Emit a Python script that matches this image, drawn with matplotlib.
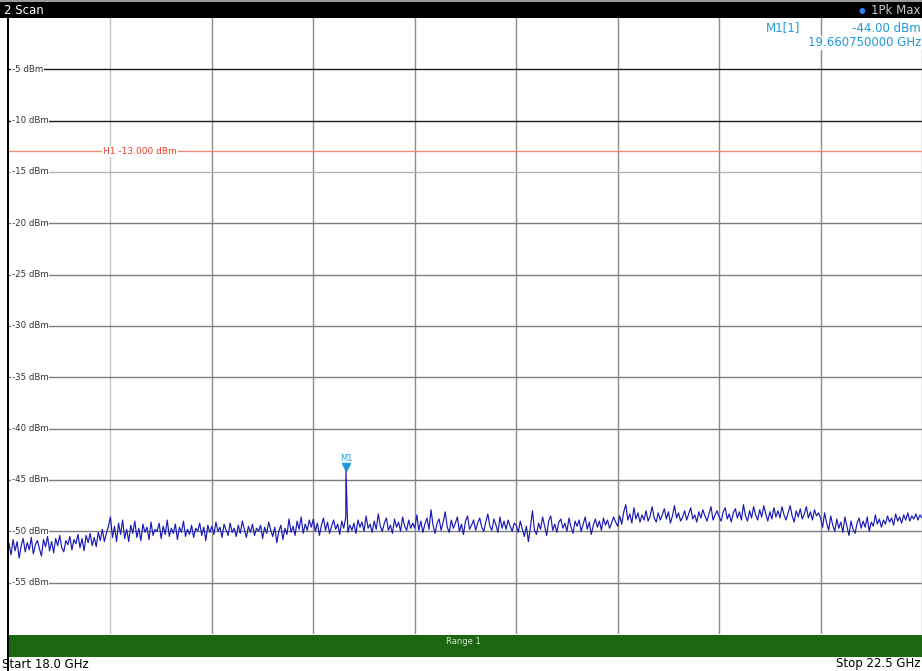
import matplotlib
matplotlib.use('Agg')
import matplotlib.pyplot as plt
import numpy as np
from matplotlib.patches import Rectangle

plt.rcParams['font.family'] = 'DejaVu Sans'

# sweep settings
start_ghz = 18.0
stop_ghz = 22.5
ref_levels = [-5, -10, -15, -20, -25, -30, -35, -40, -45, -50, -55]
level_labels = ['-5 dBm', '-10 dBm', '-15 dBm', '-20 dBm', '-25 dBm', '-30 dBm',
                '-35 dBm', '-40 dBm', '-45 dBm', '-50 dBm', '-55 dBm']
freq_grid = [18.5, 19.0, 19.5, 20.0, 20.5, 21.0, 21.5, 22.0]
h1_level = -13.0
marker_freq = 19.66075
marker_level = -44.00

# 1Pk Max trace (dBm), evenly spaced over the span
trace = [
    -51.2, -52.3, -50.8, -51.9, -51.0, -52.6, -51.4, -50.7, -52.0, -51.1,
    -51.8, -50.6, -52.2, -51.3, -50.9, -51.7, -52.4, -50.8, -51.5, -50.5,
    -51.9, -51.0, -52.1, -50.7, -51.4, -50.4, -51.6, -52.0, -50.9, -51.3,
    -50.5, -51.8, -50.8, -51.2, -50.3, -51.6, -50.7, -51.9, -50.4, -51.1,
    -50.2, -51.4, -50.6, -51.5, -50.1, -50.9, -49.8, -51.0, -50.2, -49.5,
    # 18.5 GHz
    -48.6, -50.6, -49.5, -51.0, -49.2, -50.3, -48.9, -50.7, -49.8, -51.0,
    -49.4, -50.2, -49.0, -50.6, -49.7, -50.9, -49.3, -50.1, -49.6, -50.8,
    -49.1, -50.4, -49.8, -50.0, -49.2, -50.7, -49.5, -50.3, -48.9, -50.5,
    -49.7, -50.2, -49.3, -50.8, -49.6, -50.1, -49.0, -50.5, -49.8, -50.3,
    -49.4, -50.6, -49.7, -50.0, -49.2, -50.4, -49.6, -50.9, -49.4, -50.1,
    # 19.0 GHz
    -49.5, -50.3, -49.1, -50.0, -49.6, -50.6, -49.3, -49.9, -50.4, -49.2,
    -50.1, -49.7, -50.5, -49.4, -50.2, -49.0, -49.8, -50.6, -49.5, -50.1,
    -49.3, -50.4, -49.7, -50.0, -49.4, -50.7, -49.6, -50.2, -49.1, -49.9,
    -50.5, -49.6, -51.1, -50.0, -49.4, -50.8, -49.7, -50.3, -48.8, -50.1,
    -49.5, -50.4, -49.0, -49.8, -48.6, -50.2, -49.3, -49.9, -48.9, -49.6,
    # 19.5 GHz
    -48.8, -50.0, -49.2, -50.4, -49.4, -48.7, -49.9, -49.1, -50.2, -49.5,
    -48.9, -49.8, -49.3, -50.3, -49.0, -49.7, -48.6, -50.1, -49.4, -49.9,
    -49.2, -50.2, -48.9, -49.6, -49.1, -50.0, -48.5, -49.7, -49.3, -50.1,
    -49.0, -49.8, -48.3, -49.5, -50.0, -49.2, -48.7, -49.9, -49.4, -50.2,
    -48.8, -49.6, -49.1, -50.0, -48.6, -49.5, -49.9, -48.9, -49.7, -49.2,
    # 20.0 GHz
    -49.7, -48.4, -49.9, -49.0, -50.1, -49.3, -48.7, -49.8, -47.9, -49.4,
    -50.2, -49.2, -48.8, -49.9, -49.1, -48.1, -49.6, -50.1, -48.9, -49.7,
    -49.2, -48.6, -50.0, -49.3, -50.3, -49.0, -48.5, -49.8, -49.4, -48.9,
    -49.9, -49.2, -48.7, -49.6, -50.0, -49.1, -48.3, -49.5, -49.9, -48.8,
    -49.4, -50.1, -48.6, -49.7, -49.0, -49.8, -48.9, -49.5, -50.0, -49.2,
    # 20.5 GHz
    -49.4, -50.1, -49.0, -49.8, -50.5, -49.5, -51.0, -49.6, -48.0, -49.9,
    -50.3, -49.2, -49.8, -48.6, -49.5, -50.4, -49.0, -48.5, -49.9, -49.3,
    -50.1, -49.1, -48.8, -49.7, -49.2, -50.0, -48.7, -49.6, -50.2, -49.0,
    -49.5, -48.9, -50.0, -49.3, -48.6, -49.8, -49.1, -50.3, -49.4, -48.8,
    -49.6, -49.0, -49.9, -48.7, -49.4, -48.9, -49.7, -49.2, -48.6, -49.1,
    # 21.0 GHz
    -49.5, -48.5, -49.3, -48.1, -47.4, -48.9, -48.3, -49.2, -47.7, -48.8,
    -48.2, -49.1, -48.4, -48.9, -48.0, -49.0, -48.5, -47.6, -48.7, -49.1,
    -48.2, -48.9, -48.4, -47.8, -48.8, -48.1, -49.2, -48.5, -47.5, -48.7,
    -48.2, -49.0, -48.6, -48.0, -48.9, -48.3, -47.7, -48.8, -48.4, -49.1,
    -48.1, -48.7, -47.9, -48.5, -49.0, -48.3, -47.6, -48.9, -48.4, -48.0,
    # 21.5 GHz
    -48.6, -49.0, -48.1, -47.7, -48.8, -48.3, -49.1, -48.2, -47.8, -48.7,
    -48.1, -48.9, -47.4, -48.5, -49.0, -48.0, -48.7, -47.6, -48.4, -48.9,
    -47.9, -48.6, -47.5, -48.3, -49.0, -48.1, -48.8, -47.7, -48.6, -48.0,
    -48.7, -47.6, -48.4, -48.9, -48.2, -47.5, -48.5, -49.1, -48.0, -48.6,
    -47.8, -48.8, -48.3, -47.6, -48.7, -48.1, -48.9, -47.9, -48.5, -48.2,
    # 22.0 GHz
    -48.7, -49.6, -48.2, -49.2, -49.9, -48.5, -49.4, -50.0, -48.8, -49.7,
    -49.1, -50.1, -48.6, -49.5, -50.4, -49.0, -49.8, -50.2, -49.2, -48.7,
    -49.7, -49.0, -49.6, -48.6, -50.0, -49.1, -49.5, -48.4, -49.3, -48.8,
    -49.6, -48.9, -49.3, -48.5, -49.1, -48.7, -49.4, -48.3, -49.0, -48.6,
    -49.2, -48.4, -48.9, -48.2, -49.0, -48.5, -48.8, -48.3, -48.9, -48.4,
    -48.7,
]

freqs = np.linspace(start_ghz, stop_ghz, len(trace))
levels = np.array(trace)
# put the marker peak into the trace
pos = np.searchsorted(freqs, marker_freq)
freqs = np.insert(freqs, pos, marker_freq)
levels = np.insert(levels, pos, marker_level)

W, H = 922, 671
fig = plt.figure(figsize=(W / 100, H / 100), dpi=100)
fig.patch.set_facecolor('white')

def fx(px):
    return px / W

def fy(py):
    return 1 - py / H

# title bar
fig.patches.append(Rectangle((0, fy(18)), 1, 16 / H, transform=fig.transFigure,
                             facecolor='black', edgecolor='none', zorder=0))
fig.patches.append(Rectangle((0, fy(2)), 1, 2 / H, transform=fig.transFigure,
                             facecolor='#9a9a9a', edgecolor='none', zorder=0))
fig.text(fx(4), fy(10), '2 Scan', color='white', fontsize=8.5, va='center', ha='left')
fig.text(fx(862), fy(10), '\u25cf', color='#2f7ff0', fontsize=5.5, va='center', ha='center')
fig.text(fx(920), fy(10), '1Pk Max', color='#c8c8c8', fontsize=8.5, va='center', ha='right')

# range bar + start/stop
fig.patches.append(Rectangle((fx(8), fy(657)), (W - 8) / W, 22 / H, transform=fig.transFigure,
                             facecolor='#1c6612', edgecolor='none', zorder=0))
fig.text(fx(463), fy(641), 'Range 1', color='#d8e8d0', fontsize=6, va='center', ha='center')
fig.text(fx(2), fy(664), 'Start 18.0 GHz', color='black', fontsize=8.5, va='center', ha='left')
fig.text(fx(920), fy(664), 'Stop 22.5 GHz', color='black', fontsize=8.5, va='center', ha='right')

# left border
fig.patches.append(Rectangle((fx(7), 0), 2 / W, fy(18), transform=fig.transFigure,
                             facecolor='black', edgecolor='none', zorder=3))

ax = fig.add_axes([fx(9), fy(634), 1 - fx(9), (634 - 18) / H])
ax.set_xlim(start_ghz, stop_ghz)
ax.set_ylim(-60, 0)
for s in ax.spines.values():
    s.set_visible(False)
ax.set_xticks([])
ax.set_yticks([])

for f in freq_grid:
    c = '#c4c4c4' if f == 18.5 else '#8c8c8c'
    ax.axvline(f, color=c, lw=1.0, zorder=1)
ax.axvline(stop_ghz, color='#9a9a9a', lw=1.0, zorder=1)

for lvl, lab in zip(ref_levels, level_labels):
    if lvl > -12:
        c = '#1a1a1a'
    elif lvl == -15:
        c = '#b4b4b4'
    else:
        c = '#7e7e7e'
    ax.axhline(lvl, color=c, lw=1.0, zorder=1)
    ax.text(0.003, lvl, lab, transform=ax.get_yaxis_transform(), fontsize=6.2, color='#333333',
            ha='left', va='center', zorder=2,
            bbox=dict(facecolor='white', edgecolor='none', pad=0.6))

# display line H1
ax.axhline(h1_level, color='#f08a78', lw=1.0, zorder=2)
ax.text(0.103, h1_level, 'H1 -13.000 dBm', transform=ax.get_yaxis_transform(), fontsize=6.5,
        color='#e8402c', ha='left', va='center', zorder=3,
        bbox=dict(facecolor='white', edgecolor='none', pad=0.6))

# trace
ax.plot(freqs, levels, color='#1a1ab4', lw=0.85, zorder=4)

# marker
ax.plot([marker_freq], [marker_level + 0.25], marker='v', color='#1e9bd7', markersize=5.5,
        linestyle='none', zorder=5)
ax.text(marker_freq, marker_level + 0.7, 'M1', color='#1e9bd7', fontsize=6, ha='center',
        va='bottom', zorder=5)

# marker readout
fig.text(fx(800), fy(28), 'M1[1]', color='#1e9bd7', fontsize=8.5, ha='right', va='center',
         zorder=6)
fig.text(fx(921), fy(28), '-44.00 dBm', color='#1e9bd7', fontsize=8.5, ha='right', va='center',
         zorder=6, bbox=dict(facecolor='white', edgecolor='none', pad=0.5))
fig.text(fx(921), fy(43), '19.660750000 GHz', color='#1e9bd7', fontsize=8.5, ha='right',
         va='center', zorder=6, bbox=dict(facecolor='white', edgecolor='none', pad=0.5))

fig.savefig('out.png', dpi=100)
